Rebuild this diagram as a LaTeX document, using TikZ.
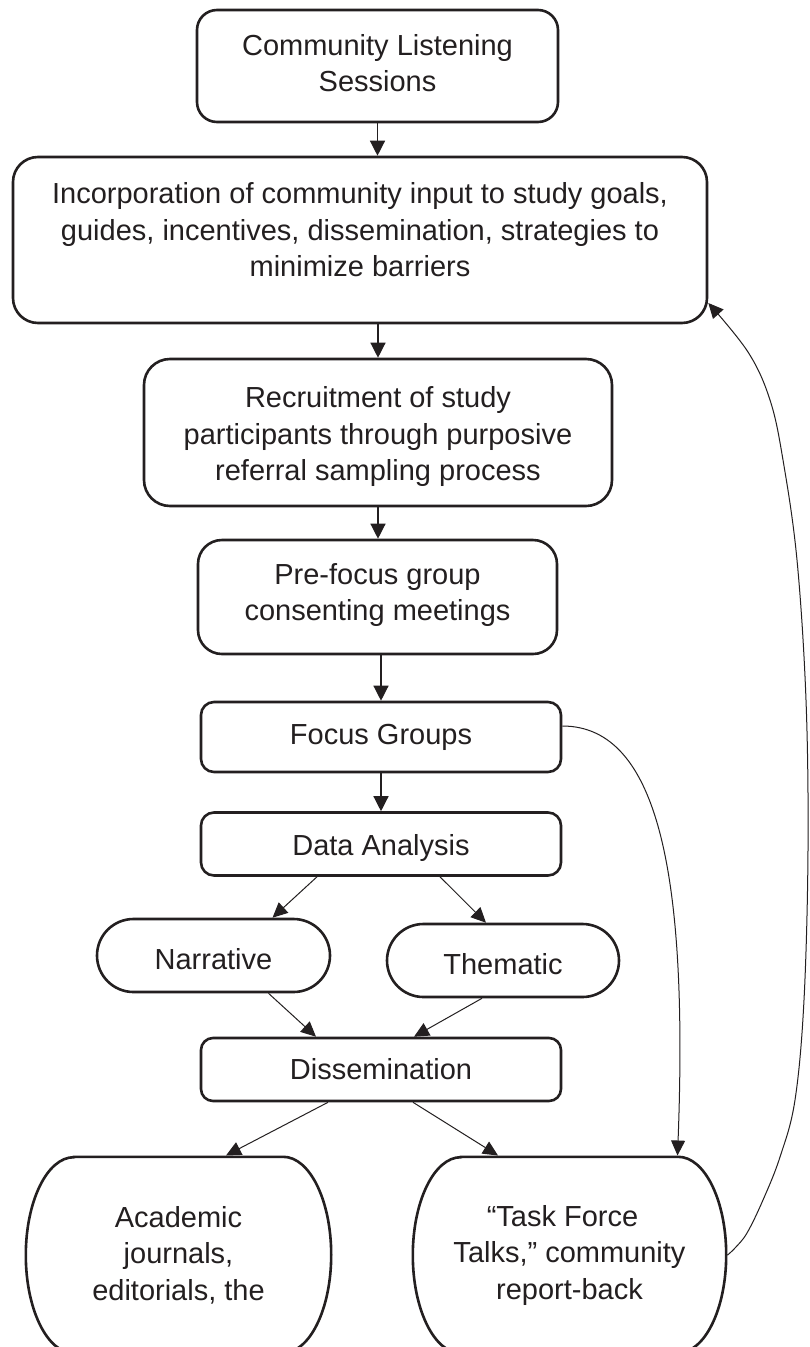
\documentclass[tikz,border=0pt]{standalone}
\usepackage{fontspec}
\setmainfont{Liberation Sans}
\usetikzlibrary{arrows.meta}
\definecolor{ink}{RGB}{35,31,32}
\begin{document}
\begin{tikzpicture}[x=1pt,y=-1pt,
  box/.style={draw=ink, line width=2.6pt, inner sep=0pt, rectangle},
  txt/.style={font=\fontsize{29pt}{36.5pt}\selectfont, text=ink, align=center, inner sep=0pt},
  conn/.style={draw=ink, line width=1.3pt, -{Triangle[length=15pt,width=15pt]}},
  link/.style={draw=ink, line width=1pt, -{Triangle[length=15pt,width=14pt]}},
  outline/.style={draw=ink, line width=2.6pt}
]
\useasboundingbox[fill=white] (0,0) rectangle (809,1347);

% boxes
\node[box, rounded corners=20pt, minimum width=361pt, minimum height=112pt] (b1) at (377.5,66) {};
\node[box, rounded corners=25pt, minimum width=694pt, minimum height=166pt] (b2) at (360,240) {};
\node[box, rounded corners=26pt, minimum width=468pt, minimum height=147pt] (b3) at (378,432.5) {};
\node[box, rounded corners=24pt, minimum width=359pt, minimum height=114pt] (b4) at (377.5,597) {};
\node[box, rounded corners=13pt, minimum width=360pt, minimum height=70pt] (fg) at (381,737) {};
\node[box, rounded corners=13pt, minimum width=360pt, minimum height=63pt] (da) at (381,844) {};
\node[box, rounded corners=36.5pt, minimum width=233pt, minimum height=73pt] (narr) at (213.5,955.5) {};
\node[box, rounded corners=36.5pt, minimum width=232pt, minimum height=73pt] (them) at (503,960.5) {};
\node[box, rounded corners=12pt, minimum width=360pt, minimum height=63pt] (diss) at (381,1069.5) {};

% texts
\node[txt] (t1) at ([yshift=3pt]b1.center) {Community Listening\\Sessions};
\node[txt] (t2) at ([yshift=10pt]b2.center) {Incorporation of community input to study goals,\\guides, incentives, dissemination, strategies to\\minimize barriers};
\node[txt] (t3) at ([yshift=-4pt]b3.center) {Recruitment of study\\participants through purposive\\referral sampling process};
\node[txt] (t4) at ([yshift=2pt]b4.center) {Pre-focus group\\consenting meetings};
\node[txt] (t5) at (fg.center) {Focus Groups};
\node[txt] (t6) at ([yshift=-4pt]da.center) {Data Analysis};
\node[txt] (t7) at ([yshift=-4pt]narr.center) {Narrative};
\node[txt] (t8) at ([yshift=-4pt]them.center) {Thematic};
\node[txt] (t9) at (diss.center) {Dissemination};

% tall bottom boxes
\node[txt, minimum width=305pt, minimum height=196pt] (acad) at (178.5,1255) {Academic\\journals,\\editorials, the};
\node[txt, minimum width=313pt, minimum height=196pt] (tf) at (569.5,1255) {“Task Force\hspace*{14pt}\\Talks,” community\\report-back};
\draw[outline] ([xshift=48pt]acad.north west) -- ([xshift=-48pt]acad.north east)
  arc[start angle=90, end angle=-90, x radius=48pt, y radius=98pt]
  -- ([xshift=48pt]acad.south west)
  arc[start angle=270, end angle=90, x radius=48pt, y radius=98pt] -- cycle;
\draw[outline] ([xshift=48pt]tf.north west) -- ([xshift=-48pt]tf.north east)
  arc[start angle=90, end angle=-90, x radius=48pt, y radius=98pt]
  -- ([xshift=48pt]tf.south west)
  arc[start angle=270, end angle=90, x radius=48pt, y radius=98pt] -- cycle;

% straight connectors
\draw[conn] (b1.south) -- (b1.south |- b2.north);
\draw[conn] (b3.north |- b2.south) -- (b3.north);
\draw[conn] (b3.south) -- (b3.south |- b4.north);
\draw[conn] (fg.north |- b4.south) -- (fg.north);
\draw[conn] (fg.south) -- (da.north);

\draw[link] ([xshift=-64pt]da.south) -- ([xshift=59pt]narr.north);
\draw[link] ([xshift=59pt]da.south) -- ([xshift=-17pt]them.north);
\draw[link] ([xshift=55pt]narr.south) -- ([xshift=-65pt]diss.north);
\draw[link] ([xshift=-21pt]them.south) -- ([xshift=33pt]diss.north);
\draw[link] ([xshift=-53pt]diss.south) -- ([xshift=47.5pt,yshift=1.3pt]acad.north);
\draw[link] ([xshift=32pt]diss.south) -- ([xshift=-71.5pt,yshift=1.3pt]tf.north);

% curved connectors
\coordinate (fgout) at ([yshift=11pt]fg.east);
\coordinate (tfin) at ([xshift=108pt,yshift=1.3pt]tf.north);
\draw[link] (fgout) .. controls (660,726) and (688,880) .. (tfin);

\coordinate (tfout) at ([xshift=1.3pt]tf.east);
\coordinate (incin) at ([yshift=-63pt]b2.east);
\draw[link] plot[smooth, tension=0.6] coordinates {(tfout) (735,1248) (747,1233) (763,1200) (780,1157) (795,1100) (804,1000) (808,850) (806,700) (797,560) (783,460) (770,400) (748,352) (incin)};
\end{tikzpicture}
\end{document}
